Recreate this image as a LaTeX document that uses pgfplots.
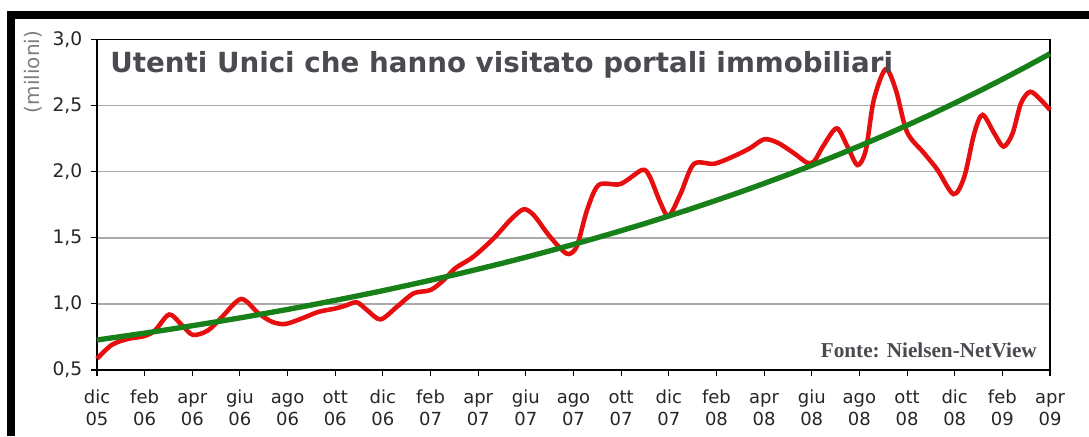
\documentclass[border=0pt]{standalone}
\usepackage{pgfplots}
\pgfplotsset{compat=1.18}
\usepackage{fontspec}
\setmainfont{DejaVu Sans}
\newfontfamily\serifb{Liberation Serif}
\definecolor{redline}{RGB}{230,14,14}
\definecolor{greenline}{RGB}{24,128,24}
\definecolor{titlegray}{RGB}{74,74,80}
\definecolor{labgray}{RGB}{125,125,125}
\definecolor{gridgray}{RGB}{170,170,170}
\newcommand\xl[2]{\rule{0pt}{10.3pt}#1\\#2}
\begin{document}
\begin{tikzpicture}
\path[use as bounding box] (0,0) rectangle (816.75pt,327pt);
\fill[black] (5.25pt,312.75pt) rectangle (816.75pt,318.75pt);
\fill[black] (5.25pt,0pt) rectangle (11.25pt,318.75pt);
\begin{axis}[
  at={(72.75pt,49.5pt)}, anchor=south west,
  scale only axis, width=714.75pt, height=247.875pt,
  xmin=0, xmax=40, ymin=0.5, ymax=3.0,
  xtick={0,2,...,40},
  xticklabels={{\xl{dic}{05}},{\xl{feb}{06}},{\xl{apr}{06}},{\xl{giu}{06}},{\xl{ago}{06}},{\xl{ott}{06}},{\xl{dic}{06}},{\xl{feb}{07}},{\xl{apr}{07}},{\xl{giu}{07}},{\xl{ago}{07}},{\xl{ott}{07}},{\xl{dic}{07}},{\xl{feb}{08}},{\xl{apr}{08}},{\xl{giu}{08}},{\xl{ago}{08}},{\xl{ott}{08}},{\xl{dic}{08}},{\xl{feb}{09}},{\xl{apr}{09}}},
  ytick={0.5,1,1.5,2,2.5,3},
  yticklabels={{0,5},{1,0},{1,5},{2,0},{2,5},{3,0}},
  xticklabel style={align=center, font=\fontsize{13.5}{16.5}\selectfont, text=black!85, yshift=-7pt},
  yticklabel style={font=\fontsize{14}{16}\selectfont, text=black!85, xshift=-3pt},
  tick align=outside, tick pos=left,
  major tick length=4.5pt,
  tick style={black, line width=0.8pt},
  ymajorgrids, grid style={gridgray, line width=1.1pt},
  axis line style={black, line width=0.8pt},
  clip=false,
]
\addplot[redline, line width=3.4pt, smooth, tension=0.5] coordinates {
(0,0.585) (0.62,0.69) (1.3,0.735) (2.0,0.757) (2.44,0.80) (3.03,0.92) (3.56,0.84) (4.03,0.765) (4.66,0.80) (5.24,0.90) (6.05,1.037) (6.77,0.93) (7.34,0.865) (7.9,0.848) (8.6,0.89) (9.3,0.94) (10.0,0.965) (10.4,0.985) (10.9,1.012) (11.33,0.954) (11.9,0.883) (12.6,0.98) (13.29,1.08) (14.0,1.105) (14.55,1.18) (15.04,1.27) (15.8,1.357) (16.65,1.496) (17.35,1.635) (17.9,1.715) (18.33,1.672) (18.9,1.534) (19.45,1.42) (19.8,1.377) (20.15,1.44) (20.57,1.71) (21.06,1.9) (21.97,1.907) (22.88,2.013) (23.2,1.962) (23.66,1.76) (24.0,1.665) (24.5,1.836) (25.05,2.058) (25.9,2.06) (26.7,2.115) (27.4,2.177) (28.0,2.245) (28.56,2.22) (29.26,2.139) (29.8,2.068) (30.1,2.078) (30.5,2.2) (31.05,2.328) (31.5,2.19) (31.92,2.05) (32.27,2.164) (32.6,2.54) (33.1,2.775) (33.53,2.618) (34.0,2.30) (34.72,2.139) (35.28,2.013) (35.95,1.83) (36.4,1.96) (36.82,2.29) (37.17,2.43) (37.66,2.29) (38.05,2.19) (38.43,2.29) (38.78,2.517) (39.17,2.605) (39.62,2.542) (40.0,2.467)
};
\addplot[greenline, line width=4pt] coordinates {
(0,0.727) (1,0.753) (2,0.779) (3,0.806) (4,0.835) (5,0.864) (6,0.894) (7,0.926) (8,0.958) (9,0.992) (10,1.027) (11,1.063) (12,1.100) (13,1.139) (14,1.179) (15,1.220) (16,1.263) (17,1.307) (18,1.353) (19,1.401) (20,1.450) (21,1.501) (22,1.554) (23,1.608) (24,1.665) (25,1.723) (26,1.784) (27,1.846) (28,1.911) (29,1.978) (30,2.048) (31,2.120) (32,2.194) (33,2.271) (34,2.351) (35,2.433) (36,2.519) (37,2.607) (38,2.699) (39,2.794) (40,2.892)
};
\end{axis}
\node[anchor=base west, inner sep=0pt, text=titlegray, font=\fontsize{20.8}{24}\selectfont\bfseries] at (82.5pt,272.25pt) {Utenti Unici che hanno visitato portali immobiliari};
\node[anchor=base east, inner sep=0pt, text=titlegray, font=\serifb\fontsize{15.9}{18}\selectfont\bfseries] at (777.75pt,59.25pt) {Fonte: Nielsen-NetView};
\node[rotate=90, inner sep=0pt, text=labgray, font=\fontsize{15}{17}\selectfont] at (24.75pt,273pt) {(milioni)};
\end{tikzpicture}
\end{document}
